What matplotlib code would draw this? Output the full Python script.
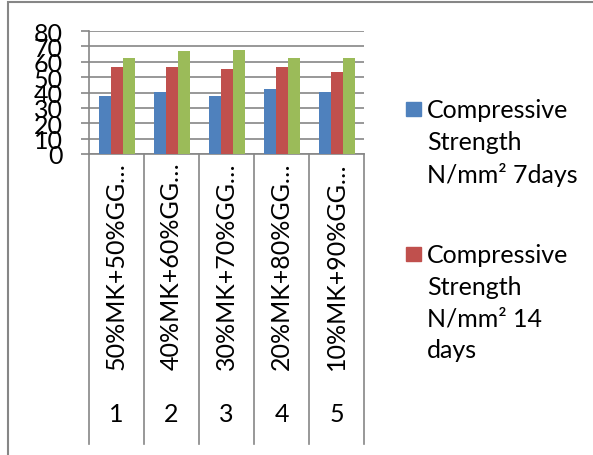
import matplotlib
matplotlib.use("Agg")
from matplotlib import pyplot as plt
from matplotlib.patches import Rectangle
import numpy as np

CATEGORIES = ["50%MK+50%GG…", "40%MK+60%GG…", "30%MK+70%GG…", "20%MK+80%GG…", "10%MK+90%GG…"]
NUMBERS = ["1", "2", "3", "4", "5"]
DAYS_7 = [38, 40.3, 38, 42, 40.5]
DAYS_14 = [56.4, 56.9, 55, 56.4, 53.2]
DAYS_28 = [62.5, 67.1, 67.8, 62.3, 62.3]
LEGEND_LABELS = ["Compressive\nStrength\nN/mm² 7days", "Compressive\nStrength\nN/mm² 14\ndays"]

BLUE = "#4F81BD"
RED = "#C0504D"
GREEN = "#9BBB59"
GRID = "#868686"

W, H = 593, 456
plt.rcParams["font.family"] = ["Lato", "DejaVu Sans"]
FS = 18

fig = plt.figure(figsize=(W / 100, H / 100), dpi=100)
ax = fig.add_axes([89 / W, 1 - 155 / H, (364 - 89) / W, (155 - 32) / H])

x = np.arange(len(CATEGORIES))
bw = 12 / 55
ax.bar(x - bw, DAYS_7, bw, color=BLUE, zorder=3)
ax.bar(x, DAYS_14, bw, color=RED, zorder=3)
ax.bar(x + bw, DAYS_28, bw, color=GREEN, zorder=3)

ax.set_xlim(-0.5, len(CATEGORIES) - 0.5)
ax.set_ylim(0, 80)
ax.set_yticks(range(0, 81, 10))
ax.yaxis.grid(True, color=GRID, linewidth=1.2, zorder=0)
ax.set_xticks([])
for s in ["top", "right"]:
    ax.spines[s].set_visible(False)
for s in ["left", "bottom"]:
    ax.spines[s].set_color(GRID)
    ax.spines[s].set_linewidth(1.2)
ax.tick_params(axis="y", length=6, width=1.2, color=GRID, pad=13, labelsize=FS)

# multi-level category axis
axh = 155 - 32
trans = ax.get_xaxis_transform()
for i in range(len(CATEGORIES) + 1):
    ax.plot([i - 0.5, i - 0.5], [0, -(445 - 155) / axh], color=GRID, lw=1.2,
            transform=trans, clip_on=False)
for i, (lab, num) in enumerate(zip(CATEGORIES, NUMBERS)):
    ax.text(i, -(162 - 155) / axh, lab, rotation=90, ha="center", va="top",
            fontsize=FS, transform=trans)
    ax.text(i, -(415 - 155) / axh, num, ha="center", va="center",
            fontsize=FS, transform=trans)

# legend (only the visible entries)
for lab, col, ytop in zip(LEGEND_LABELS, [BLUE, RED], [103, 248]):
    fig.add_artist(Rectangle((406 / W, 1 - (ytop + 14) / H), 15 / W, 14 / H,
                             color=col, transform=fig.transFigure))
    fig.text(427 / W, 1 - (ytop - 4) / H, lab, fontsize=FS, va="top", ha="left",
             linespacing=1.45)

# chart frame
fig.add_artist(Rectangle((8 / W, -0.2), 1.2, 1.2 - 3 / H, fill=False,
                         edgecolor=GRID, lw=1.5, transform=fig.transFigure))

fig.savefig("out.png", dpi=100)
